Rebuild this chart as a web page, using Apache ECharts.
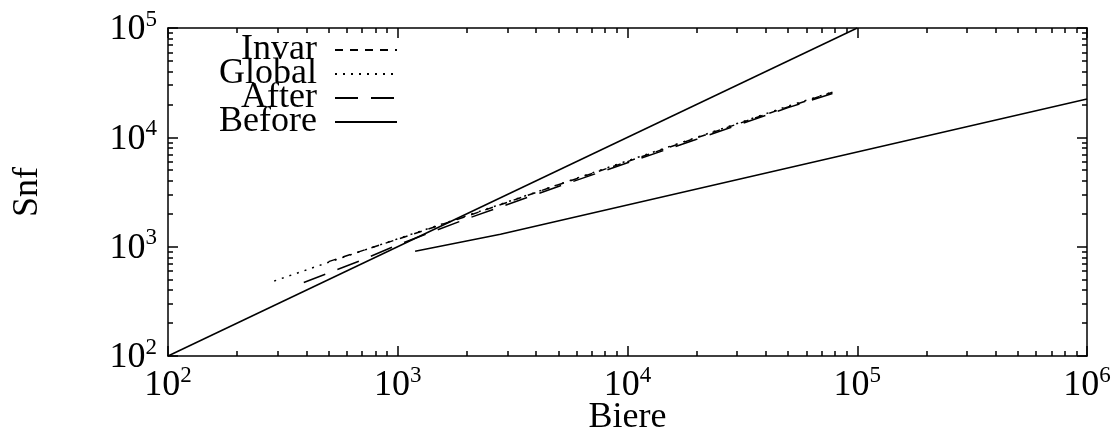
<!DOCTYPE html>
<html>
<head>
<meta charset="utf-8">
<script src="https://cdn.jsdelivr.net/npm/echarts@6/dist/echarts.min.js"></script>
<style>
  html, body { margin: 0; padding: 0; background: #fff; }
  #chart { width: 1115px; height: 433px; }
</style>
</head>
<body>
<div id="chart"></div>
<script>
// Decade ticks of the two log axes
const xMajor = [1e2, 1e3, 1e4, 1e5, 1e6];
const yMajor = [1e2, 1e3, 1e4, 1e5];

// Series: [Biere, Snf]
const invar  = [[500, 730], [1000, 1170], [2000, 1900], [5000, 3680], [10000, 6000], [20000, 9900], [50000, 19000], [78000, 25800]];
const global = [[290, 485], [500, 720], [1000, 1180], [2000, 1920], [5000, 3700], [10000, 6100], [20000, 10000], [50000, 19300], [78000, 26000]];
const after  = [[390, 470], [700, 755], [1000, 1040], [2000, 1800], [5000, 3550], [10000, 5850], [20000, 9600], [50000, 18700], [78000, 25200]];
const before = [[1190, 910], [2800, 1300], [1e6, 22400]];
const identity = [[1e2, 1e2], [1e5, 1e5]];

// minor ticks at 2..9 x each decade
function minorTicks(major) {
  const out = [];
  for (let i = 0; i < major.length - 1; i++) {
    for (let k = 2; k <= 9; k++) out.push(major[i] * k);
  }
  return out;
}

const FONT = 'Liberation Serif';
const richX = {
  b: { fontFamily: FONT, fontSize: 36, lineHeight: 40, color: '#000', verticalAlign: 'bottom' },
  e: { fontFamily: FONT, fontSize: 23, lineHeight: 20, color: '#000', verticalAlign: 'top' }
};
const richY = {
  b: { fontFamily: FONT, fontSize: 36, lineHeight: 40, color: '#000', verticalAlign: 'bottom', padding: [6, 0, 0, 0] },
  e: { fontFamily: FONT, fontSize: 23, lineHeight: 26, color: '#000', verticalAlign: 'top' }
};
function powLabel(v) {
  return '{b|10}{e|' + Math.round(Math.log10(v)) + '}';
}

const black = '#000';
const axisLine = { show: true, onZero: false, lineStyle: { color: black, width: 1.5 } };

function logAxis(range, position, opts) {
  return Object.assign({
    type: 'log', logBase: 10, min: range[0], max: range[range.length - 1],
    position: position, splitLine: { show: false }, axisLine: axisLine
  }, opts);
}

function axisSet(range, pos1, pos2, labelOpts, nameOpts) {
  const minor = minorTicks(range);
  return [
    logAxis(range, pos1, Object.assign({
      axisTick: { show: true, inside: true, length: 10, customValues: range, lineStyle: { color: black, width: 1.5 } },
      axisLabel: labelOpts
    }, nameOpts)),
    logAxis(range, pos1, {
      axisLine: { show: false },
      axisTick: { show: true, inside: true, length: 5, customValues: minor, lineStyle: { color: black, width: 1.5 } },
      axisLabel: { show: false }
    }),
    logAxis(range, pos2, {
      axisTick: { show: true, inside: true, length: 10, customValues: range, lineStyle: { color: black, width: 1.5 } },
      axisLabel: { show: false }
    }),
    logAxis(range, pos2, {
      axisLine: { show: false },
      axisTick: { show: true, inside: true, length: 5, customValues: minor, lineStyle: { color: black, width: 1.5 } },
      axisLabel: { show: false }
    })
  ];
}

function lineSeries(name, data, dash) {
  return {
    name: name, type: 'line', data: data, xAxisIndex: 0, yAxisIndex: 0,
    symbol: 'none', silent: true, animation: false,
    lineStyle: { color: black, width: 1.5, type: dash },
    itemStyle: { color: black }
  };
}

const chart = echarts.init(document.getElementById('chart'));
chart.setOption({
  backgroundColor: '#fff',
  animation: false,
  grid: { left: 168, right: 28, top: 28, bottom: 77, containLabel: false, outerBoundsMode: 'none' },
  xAxis: axisSet(xMajor, 'bottom', 'top',
    { show: true, customValues: xMajor, margin: 8, formatter: powLabel, rich: richX },
    { name: 'Biere', nameLocation: 'middle', nameGap: 47, nameMoveOverlap: false,
      nameTextStyle: { fontFamily: FONT, fontSize: 36, lineHeight: 30, color: black } }),
  yAxis: axisSet(yMajor, 'left', 'right',
    { show: true, customValues: yMajor, margin: 11, formatter: powLabel, rich: richY },
    { name: 'Snf', nameLocation: 'middle', nameGap: 122,
      nameTextStyle: { fontFamily: FONT, fontSize: 36, color: black } }),
  legend: {
    data: ['Invar', 'Global', 'After', 'Before'],
    orient: 'vertical', align: 'right',
    right: 712, top: 27, padding: 5,
    itemWidth: 62, itemHeight: 14, itemGap: -12,
    selectedMode: false,
    itemStyle: { opacity: 0, borderWidth: 0 },
    textStyle: { fontFamily: FONT, fontSize: 36, color: black, padding: [0, 13, 0, 0] }
  },
  series: [
    lineSeries('Invar', invar, [8, 7]),
    lineSeries('Global', global, [2, 6]),
    lineSeries('After', after, [23, 13]),
    lineSeries('Before', before, 'solid'),
    lineSeries('y = x', identity, 'solid')
  ]
});
</script>
</body>
</html>
